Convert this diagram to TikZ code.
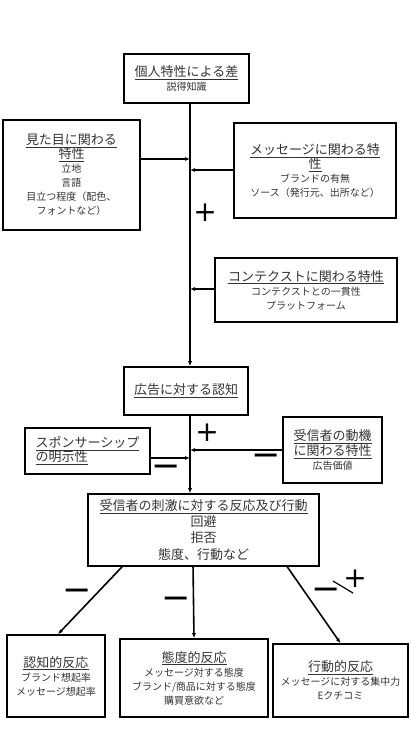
\documentclass[tikz,border=0pt]{standalone}
\usepackage{fontspec}
\usepackage{tikz}
\usetikzlibrary{positioning, arrows.meta, calc}
\newfontfamily\jpfont{Noto Sans CJK JP}
\newfontfamily\signfont{DejaVu Sans}
\newcommand{\heading}[1]{{\fontsize{13}{16}\selectfont\underline{#1}}}
\newcommand{\bigline}[1]{{\fontsize{13}{16}\selectfont #1}}

\tikzset{
    box/.style={draw, line width=1.6pt, align=center, inner sep=2pt, text=black!80,
        font=\jpfont\fontsize{10}{14}\selectfont},
    link/.style={line width=1.2pt, -{Latex[length=5pt,width=4pt]}},
    sign/.style={inner sep=0pt, font=\signfont\fontsize{28}{28}\selectfont},
    minus/.style={inner sep=0pt, font=\signfont\fontsize{35}{35}\selectfont},
}

\begin{document}
\begin{tikzpicture}[x=1pt, y=-1pt]
    \useasboundingbox (0,0) rectangle (411,734);
    % Upper factors
    \node[box, minimum width=125pt, minimum height=49pt] (traits) at (186.5,78.5)
        {\heading{個人特性による差}\\説得知識};
    \node[box, minimum width=137pt, minimum height=110pt] (look) at (71.5,175)
        {\heading{見た目に関わる}\\\heading{特性}\\立地\\言語\\目立つ程度（配色、\\フォントなど）};
    \node[box, minimum width=162pt, minimum height=95pt] (message) at (315,170.5)
        {\heading{メッセージに関わる特}\\\heading{性}\\ブランドの有無\\ソース（発行元、出所など）};
    \node[box, minimum width=182pt, minimum height=64pt] (context) at (306,290)
        {\heading{コンテクストに関わる特性}\\コンテクストとの一貫性\\プラットフォーム};
    \node[box, minimum width=124pt, minimum height=48pt] (adrec) at (186,391)
        {\heading{広告に対する認知}};
    % Middle factors
    \node[box, minimum width=125pt, minimum height=46pt, align=left] (sponsor) at (87.5,451)
        {\heading{スポンサーシップ}\\\heading{の明示性}};
    \node[box, minimum width=99pt, minimum height=66pt] (motive) at (332.5,450)
        {\heading{受信者の動機}\\\heading{に関わる特性}\\広告価値};
    \node[box, minimum width=231pt, minimum height=72pt] (response) at (203.5,530)
        {\heading{受信者の刺激に対する反応及び行動}\\[1pt]\bigline{回避}\\[2.5pt]\bigline{拒否}\\[2.5pt]\bigline{態度、行動など}};
    % Reactions
    \node[box, minimum width=98pt, minimum height=82pt] (cognitive) at (56,676)
        {\heading{認知的反応}\\ブランド想起率\\メッセージ想起率};
    \node[box, minimum width=148pt, minimum height=78pt] (attitude) at (194,678)
        {\heading{態度的反応}\\メッセージ対する態度\\ブランド/商品に対する態度\\購買意欲など};
    \node[box, minimum width=135pt, minimum height=73pt] (behavior) at (340.5,680.5)
        {\heading{行動的反応}\\メッセージに対する集中力\\Eクチコミ};

    % Main line and inputs
    \coordinate (axis) at (190,0);
    \coordinate (inLook) at (190,159);
    \coordinate (inMessage) at (190,170);
    \coordinate (inContext) at (190,289);
    \coordinate (inMotive) at (190,450);
    \coordinate (inSponsor) at (190,458);
    \draw[link] (traits.south -| axis) -- (adrec.north -| axis);
    \draw[link] (look.east |- inLook) -- (inLook);
    \draw[link] (message.west |- inMessage) -- (inMessage);
    \draw[link] (context.west |- inContext) -- (inContext);
    \draw[link] (adrec.south -| axis) -- (response.north -| axis);
    \draw[link] (sponsor.east |- inSponsor) -- (inSponsor);
    \draw[link] (motive.west |- inMotive) -- (inMotive);
    % Outputs
    \draw[link, line width=1.6pt] ($(response.south west)!0.15!(response.south east)$) -- ([xshift=2pt]cognitive.north);
    \draw[link, line width=1.6pt] ($(response.south west)!0.455!(response.south east)$) -- (attitude.north);
    \draw[link, line width=1.6pt] ($(response.south west)!0.86!(response.south east)$) -- (behavior.north);

    % Signs
    \node[sign] (plusUpper) at (205,213) {+};
    \node[sign] (plusMiddle) at (207,433) {+};
    \node[minus] (minusSponsor) at (166,471) {−};
    \node[minus] (minusMotive) at (266,460) {−};
    \node[minus] (minusCog) at (77,595) {−};
    \node[minus] (minusAtt) at (176,603) {−};
    \node[minus] (minusBeh) at (326,594) {−};
    \node[sign] (plusBeh) at (355,579) {+};
    \draw[line width=1.2pt] (333,581) -- (353,593);
\end{tikzpicture}
\end{document}
